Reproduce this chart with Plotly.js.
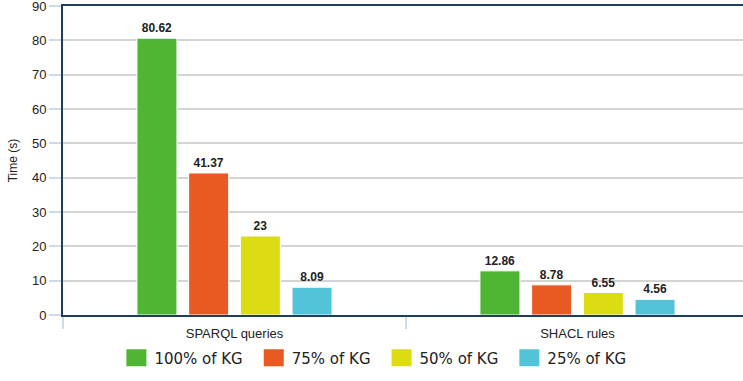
<!DOCTYPE html>
<html>
<head>
<meta charset="utf-8">
<script src="https://cdn.plot.ly/plotly-3.0.1.min.js"></script>
<style>html,body{margin:0;padding:0;background:#fff;}#chart{width:743px;height:381px;}</style>
</head>
<body>
<div id="chart"></div>
<script>
const categories = ["SPARQL queries", "SHACL rules"];
const seriesNames = ["100% of KG", "75% of KG", "50% of KG", "25% of KG"];
const kg100 = [80.62, 12.86];
const kg75 = [41.37, 8.78];
const kg50 = [23, 6.55];
const kg25 = [8.09, 4.56];
const seriesColors = ["#4fb532", "#e95a22", "#dbdc12", "#53c3d9"];
const yTicks = [0, 10, 20, 30, 40, 50, 60, 70, 80, 90];

const allValues = [kg100, kg75, kg50, kg25];
const traces = allValues.map((vals, i) => ({
  type: "bar",
  name: seriesNames[i],
  x: categories,
  y: vals,
  text: vals.map(v => String(v)),
  textposition: "outside",
  cliponaxis: false,
  textfont: {family: "Liberation Sans, Arial, sans-serif", size: 12, color: "#222", weight: "bold"},
  marker: {color: seriesColors[i], line: {color: "#ffffff", width: 1}},
  hoverinfo: "none"
}));

const layout = {
  width: 743,
  height: 381,
  margin: {l: 63, r: 0, t: 6, b: 66, autoexpand: false},
  paper_bgcolor: "#ffffff",
  plot_bgcolor: "#ffffff",
  barmode: "group",
  bargap: 0.397,
  bargroupgap: 0.226,
  showlegend: true,
  legend: {
    orientation: "h",
    x: 0.0697, xanchor: "left",
    y: -0.139, yanchor: "middle",
    itemwidth: 34,
    font: {family: "DejaVu Sans, sans-serif", size: 15, color: "#222"},
    traceorder: "normal"
  },
  xaxis: {
    type: "category",
    range: [-0.5, 1.4825],
    showline: true,
    linecolor: "#1f3d5c",
    linewidth: 2,
    mirror: true,
    ticks: "outside",
    tickson: "boundaries",
    ticklen: 12,
    tickcolor: "#cfdbe8",
    tickwidth: 2,
    ticklabelstandoff: 5,
    showgrid: false,
    tickfont: {family: "Liberation Sans, Arial, sans-serif", size: 13, color: "#222"},
    fixedrange: true
  },
  yaxis: {
    range: [0, 90],
    tickvals: yTicks,
    ticktext: yTicks.map(String),
    ticklabeloverflow: "allow",
    showline: true,
    linecolor: "#1f3d5c",
    linewidth: 2,
    ticks: "outside",
    ticklen: 12,
    tickcolor: "#cfdbe8",
    tickwidth: 2,
    showgrid: true,
    gridcolor: "#d4d4d4",
    gridwidth: 2,
    zeroline: false,
    tickfont: {family: "Liberation Sans, Arial, sans-serif", size: 13, color: "#222"},
    title: {text: "Time (s)", font: {family: "Liberation Sans, Arial, sans-serif", size: 12, color: "#222"}, standoff: 12},
    fixedrange: true
  }
};

Plotly.newPlot("chart", traces, layout, {displayModeBar: false, staticPlot: true}).then(() => {
  document.querySelectorAll("#chart .legend .legendpoints path").forEach(p => {
    p.setAttribute("d", "M14,8.5H-6V-8.5H14Z");
    p.style.strokeWidth = "0px";
  });
});
</script>
</body>
</html>
